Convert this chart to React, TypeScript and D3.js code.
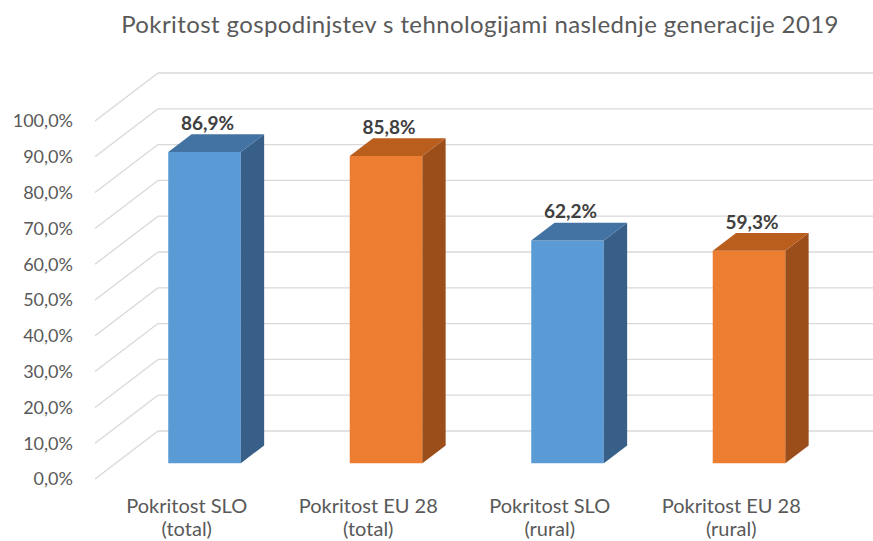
import React, { useEffect, useRef } from "react";
import * as d3 from "d3";

const title = "Pokritost gospodinjstev s tehnologijami naslednje generacije 2019";
const categories = ["Pokritost SLO (total)", "Pokritost EU 28 (total)", "Pokritost SLO (rural)", "Pokritost EU 28 (rural)"];
const categoryLines = [
  ["Pokritost SLO", "(total)"],
  ["Pokritost EU 28", "(total)"],
  ["Pokritost SLO", "(rural)"],
  ["Pokritost EU 28", "(rural)"],
];
const values = [0.869, 0.858, 0.622, 0.593];
const seriesOf = ["SLO", "EU", "SLO", "EU"];
const yTicks = [0, 0.1, 0.2, 0.3, 0.4, 0.5, 0.6, 0.7, 0.8, 0.9, 1.0];

const colors: Record<string, { front: string; top: string; side: string }> = {
  SLO: { front: "#5B9BD5", top: "#4373A3", side: "#375F88" },
  EU: { front: "#ED7D31", top: "#BA5E1E", side: "#9B4E1A" },
};

const fontFamily = "Lato, 'Open Sans', sans-serif";

export default function App() {
  const ref = useRef<SVGSVGElement>(null);

  useEffect(() => {
    const svg = d3.select(ref.current);
    svg.selectAll("*").remove();

    const width = 873;
    const height = 541;
    // floor front-left corner and depth vector of the 3D box
    const x0 = 95;
    const floorY = 479;
    const depth = { dx: 63, dy: -48 };
    const plotH = 358;
    const barFront = 0.33;
    const barBack = 0.7;

    const loc = d3.formatLocale({ decimal: ",", thousands: ".", grouping: [3], currency: ["", "€"] });
    const fmt = loc.format(".1%");

    const x = d3.scaleBand<string>()
      .domain(categories)
      .range([93, 819])
      .paddingInner(0.6)
      .paddingOuter(0.3);

    const y = d3.scaleLinear().domain([0, 1]).range([0, plotH]);

    // project (xFront, value, depthFraction) -> screen
    const px = (xv: number, d: number) => xv + depth.dx * d;
    const py = (v: number, d: number) => floorY + depth.dy * d - y(v);

    const grid = svg.append("g");
    yTicks.forEach(t => {
      // left wall diagonal
      grid.append("line")
        .attr("x1", px(x0, 0)).attr("y1", py(t, 0))
        .attr("x2", px(x0, 1)).attr("y2", py(t, 1))
        .attr("stroke", "#d9d9d9").attr("stroke-width", 1.3);
      // back wall line
      grid.append("line")
        .attr("x1", px(x0, 1)).attr("y1", py(t, 1))
        .attr("x2", px(x0 + 800, 1)).attr("y2", py(t, 1))
        .attr("stroke", "#d9d9d9").attr("stroke-width", 1.3);
    });

    const bw = x.bandwidth();
    const bars = svg.append("g");
    categories.forEach((c, i) => {
      const v = values[i];
      const col = colors[seriesOf[i]];
      const xl = x(c)!;
      const xr = xl + bw;
      const pts = (arr: [number, number][]) => arr.map(p => p.join(",")).join(" ");

      // front face
      bars.append("polygon")
        .attr("points", pts([
          [px(xl, barFront), py(0, barFront)],
          [px(xr, barFront), py(0, barFront)],
          [px(xr, barFront), py(v, barFront)],
          [px(xl, barFront), py(v, barFront)],
        ]))
        .attr("fill", col.front);
      // side face
      bars.append("polygon")
        .attr("points", pts([
          [px(xr, barFront), py(0, barFront)],
          [px(xr, barBack), py(0, barBack)],
          [px(xr, barBack), py(v, barBack)],
          [px(xr, barFront), py(v, barFront)],
        ]))
        .attr("fill", col.side);
      // top face
      bars.append("polygon")
        .attr("points", pts([
          [px(xl, barFront), py(v, barFront)],
          [px(xr, barFront), py(v, barFront)],
          [px(xr, barBack), py(v, barBack)],
          [px(xl, barBack), py(v, barBack)],
        ]))
        .attr("fill", col.top);

      // value label
      svg.append("text")
        .attr("x", px(xl + bw / 2, barFront) + 3)
        .attr("y", py(v, barFront) - 22)
        .attr("text-anchor", "middle")
        .attr("font-family", fontFamily)
        .attr("font-weight", "bold")
        .attr("font-size", 19)
        .attr("fill", "#404040")
        .text(fmt(v));

      // category label at front floor plane
      const lines = categoryLines[i];
      const t = svg.append("text")
        .attr("text-anchor", "middle")
        .attr("font-family", fontFamily)
        .attr("font-size", 20)
        .attr("fill", "#595959");
      lines.forEach((ln, k) => {
        t.append("tspan")
          .attr("x", px(xl + bw / 2, 0) + 3)
          .attr("y", 513 + k * 23)
          .text(ln);
      });
    });

    // y tick labels
    svg.append("g").selectAll("text")
      .data(yTicks)
      .join("text")
      .attr("x", 73)
      .attr("y", d => py(d, 0))
      .attr("dy", "0.35em")
      .attr("text-anchor", "end")
      .attr("font-family", fontFamily)
      .attr("font-size", 18)
      .attr("fill", "#595959")
      .text(d => fmt(d));

    svg.append("text")
      .attr("x", 480)
      .attr("y", 33)
      .attr("text-anchor", "middle")
      .attr("font-family", fontFamily)
      .attr("font-size", 24)
      .attr("letter-spacing", 0.4)
      .attr("fill", "#595959")
      .text(title);

    svg.attr("width", width).attr("height", height);
  }, []);

  return (
    <svg
      ref={ref}
      width={873}
      height={541}
      style={{ position: "absolute", left: 0, top: 0, background: "#fff" }}
    />
  );
}
